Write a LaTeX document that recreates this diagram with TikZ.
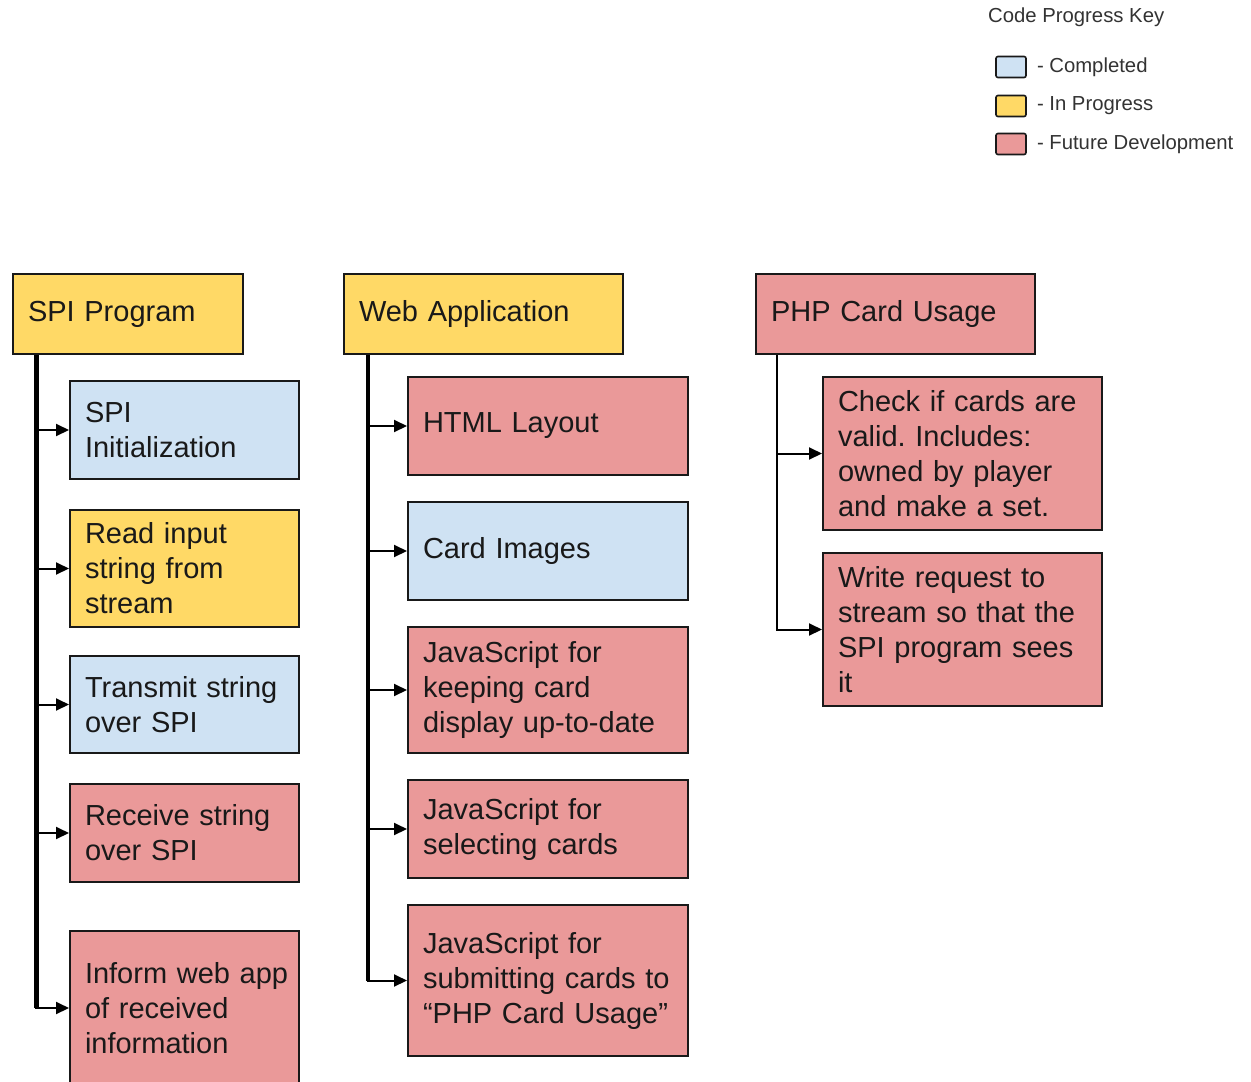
\documentclass[tikz,border=0pt]{standalone}
\usepackage{fontspec}
\setmainfont{Liberation Sans}
\usepackage{xcolor}
\usepackage{tikz}
\usetikzlibrary{arrows.meta}
\usetikzlibrary{calc}
\usetikzlibrary{positioning}
\definecolor{donecol}{HTML}{CFE2F3}
\definecolor{progcol}{HTML}{FFD966}
\definecolor{futcol}{HTML}{EA9999}
\colorlet{inkcol}{black!90}
\newcommand\boxfont{\fontsize{29}{35}\selectfont\frenchspacing}
\newcommand\keyfont{\fontsize{20.3}{24}\selectfont}
\tikzstyle{task}=[draw=inkcol,line width=2pt,anchor=north west,align=left,inner xsep=15pt,inner ysep=0pt,font=\boxfont,text=inkcol]
\tikzstyle{done}=[task,fill=donecol]
\tikzstyle{prog}=[task,fill=progcol]
\tikzstyle{fut}=[task,fill=futcol]
\tikzstyle{swatch}=[draw=inkcol,line width=1.6pt,rounded corners=2pt,minimum width=30pt,minimum height=21pt,inner sep=0pt]
\tikzstyle{keytext}=[font=\keyfont,text=black!80,inner sep=0pt,anchor=west]
\tikzstyle{branchhead}=[>/.tip={Triangle[length=13pt,width=12pt]}]
\tikzstyle{branch}=[line width=2pt,branchhead,->]
\tikzstyle{trunk}=[line width=5pt]

\begin{document}
\begin{tikzpicture}[x=1pt,y=-1pt]
  \useasboundingbox[fill=white] (0,0) rectangle (1251,1082);

  \node[keytext] (keytitle) at (988,17) {Code Progress Key};
  \node[swatch,fill=donecol] (kdone) at (1011,67) {};
  \node[swatch,fill=progcol] (kprog) at (1011,106) {};
  \node[swatch,fill=futcol]  (kfut)  at (1011,144) {};
  \node[keytext,right=10pt of kdone] {- Completed};
  \node[keytext,right=10pt of kprog] {- In Progress};
  \node[keytext,right=10pt of kfut]  {- Future Development};

  \node[prog,text width=200pt,minimum height=80pt] (spi) at (12,273) {SPI Program};
  \node[done,text width=199pt,minimum height=98pt] (ini) at (69,380) {SPI\\Initialization};
  \node[prog,text width=199pt,minimum height=117pt] (read) at (69,509) {Read input\\string from\\stream};
  \node[done,text width=199pt,minimum height=97pt] (trans) at (69,655) {Transmit string\\over SPI};
  \node[fut,text width=199pt,minimum height=98pt] (recv) at (69,783) {Receive string\\over SPI};
  \node[fut,text width=199pt,minimum height=154pt] (inform) at (69,930) {\mbox{Inform web app}\\of received\\information};

  \node[prog,text width=249pt,minimum height=80pt] (web) at (343,273) {Web Application};
  \node[fut,text width=250pt,minimum height=98pt] (html) at (407,376) {HTML Layout};
  \node[done,text width=250pt,minimum height=98pt] (cards) at (407,501) {Card Images};
  \node[fut,text width=250pt,minimum height=126pt] (keep) at (407,626) {JavaScript for\\keeping card\\display up-to-date};
  \node[fut,text width=250pt,minimum height=98pt] (select) at (407,779) {JavaScript for\\selecting cards};
  \node[fut,text width=250pt,minimum height=151pt] (submit) at (407,904) {JavaScript for\\submitting cards to\\“PHP Card Usage”};

  \node[fut,text width=249pt,minimum height=80pt] (php) at (755,273) {PHP Card Usage};
  \node[fut,text width=249pt,minimum height=153pt] (check) at (822,376) {Check if cards are\\valid. Includes:\\owned by player\\and make a set.};
  \node[fut,text width=249pt,minimum height=153pt] (write) at (822,552) {Write request to\\stream so that the\\SPI program sees\\it};

  \coordinate (spit) at ($(spi.south west)+(24,0)$);
  \coordinate (webt) at ($(web.south west)+(25,0)$);
  \coordinate (phpt) at ($(php.south west)+(22,0)$);

  \draw[trunk] (spit) -- (spit |- inform.west);
  \foreach \t in {ini,read,trans,recv,inform}
    \draw[branch] (spit) |- (\t);

  \draw[line width=4pt] (webt) -- (webt |- submit.west);
  \foreach \t in {html,cards,keep,select,submit}
    \draw[branch] (webt) |- (\t);

  \draw[line width=2.5pt] (phpt) -- (phpt |- write.west);
  \foreach \t in {check,write}
    \draw[branch] (phpt) |- (\t);
\end{tikzpicture}
\end{document}
